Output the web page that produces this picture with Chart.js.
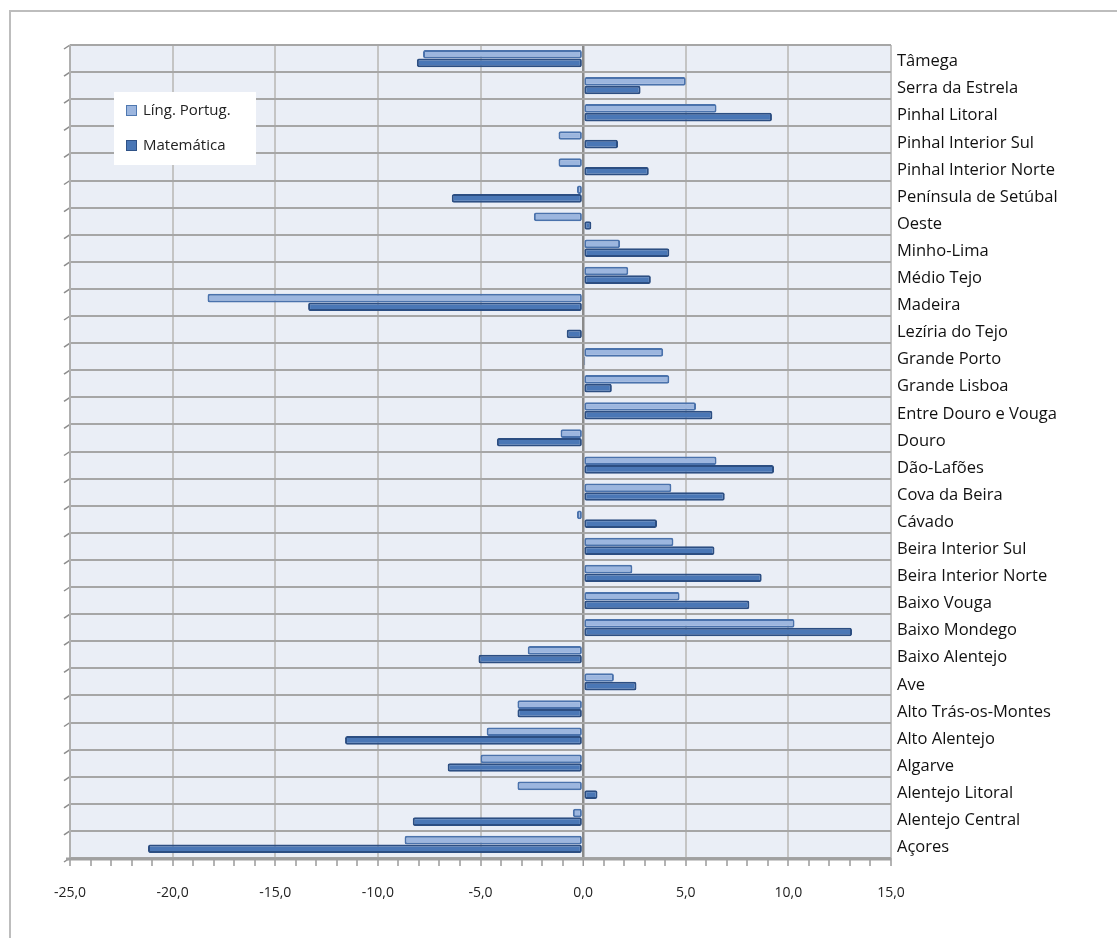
<!DOCTYPE html>
<html>
<head>
<meta charset="utf-8">
<script src="https://cdn.jsdelivr.net/npm/chart.js@4/dist/chart.umd.min.js"></script>
<style>
html,body{margin:0;padding:0;background:#fff;}
#wrap{width:1117px;height:938px;position:relative;}
</style>
</head>
<body>
<div id="wrap"><canvas id="c" width="1117" height="938"></canvas></div>
<script>
const categories = ["Tâmega","Serra da Estrela","Pinhal Litoral","Pinhal Interior Sul","Pinhal Interior Norte","Península de Setúbal","Oeste","Minho-Lima","Médio Tejo","Madeira","Lezíria do Tejo","Grande Porto","Grande Lisboa","Entre Douro e Vouga","Douro","Dão-Lafões","Cova da Beira","Cávado","Beira Interior Sul","Beira Interior Norte","Baixo Vouga","Baixo Mondego","Baixo Alentejo","Ave","Alto Trás-os-Montes","Alto Alentejo","Algarve","Alentejo Litoral","Alentejo Central","Açores"];
const lingPortug = [-7.8, 5.0, 6.5, -1.2, -1.2, -0.3, -2.4, 1.8, 2.2, -18.3, 0.0, 3.9, 4.2, 5.5, -1.1, 6.5, 4.3, -0.3, 4.4, 2.4, 4.7, 10.3, -2.7, 1.5, -3.2, -4.7, -5.0, -3.2, -0.5, -8.7];
const matematica = [-8.1, 2.8, 9.2, 1.7, 3.2, -6.4, 0.4, 4.2, 3.3, -13.4, -0.8, 0.1, 1.4, 6.3, -4.2, 9.3, 6.9, 3.6, 6.4, 8.7, 8.1, 13.1, -5.1, 2.6, -3.2, -11.6, -6.6, 0.7, -8.3, -21.2];
const seriesNames = ["Líng. Portug.", "Matemática"];
const xTicks = {min: -25, max: 15, major: 5, minor: 1};
</script>
<script>
const plotBg = {
  id: 'plotBg',
  beforeDraw(chart) {
    const {ctx, chartArea: a} = chart;
    ctx.save();
    ctx.strokeStyle = '#BDBDBD';
    ctx.lineWidth = 2;
    ctx.strokeRect(10, 11, 1200, 1000);
    ctx.fillStyle = '#EAEEF6';
    ctx.fillRect(a.left, a.top, a.right - a.left, a.bottom - a.top);
    ctx.strokeStyle = '#8C8C8C';
    ctx.lineWidth = 1.5;
    for (let i = 0; i <= categories.length; i++) {
      const yy = a.top + (a.bottom - a.top) * i / categories.length;
      ctx.beginPath();
      ctx.moveTo(a.left - 6, yy + 4);
      ctx.lineTo(a.left, yy);
      ctx.stroke();
    }
    ctx.restore();
  },
  afterDraw(chart) {
    const {ctx, chartArea: a} = chart;
    ctx.save();
    const lx = 114, ly = 92, lw = 142, lh = 73;
    ctx.fillStyle = '#FFFFFF';
    ctx.fillRect(lx, ly, lw, lh);
    const cols = [['#9CB6DF', '#4F78B0'], ['#4A77B6', '#2F5287']];
    ctx.font = '15px "Open Sans", sans-serif';
    ctx.textBaseline = 'middle';
    seriesNames.forEach((n, i) => {
      const yy = ly + 19 + i * 35;
      ctx.fillStyle = cols[i][0];
      ctx.fillRect(lx + 12, yy - 6, 11, 11);
      ctx.strokeStyle = cols[i][1];
      ctx.lineWidth = 1;
      ctx.strokeRect(lx + 12.5, yy - 5.5, 10, 10);
      ctx.fillStyle = '#222';
      ctx.fillText(n, lx + 29, yy);
    });
    ctx.strokeStyle = '#B0B0B0';
    ctx.lineWidth = 2;
    ctx.beginPath(); ctx.moveTo(a.left, a.top); ctx.lineTo(a.left, a.bottom); ctx.stroke();
    ctx.strokeStyle = '#A0A0A0';
    ctx.lineWidth = 3;
    ctx.beginPath(); ctx.moveTo(a.left - 4, a.bottom + 1); ctx.lineTo(a.right, a.bottom + 1); ctx.stroke();
    ctx.restore();
  }
};

new Chart(document.getElementById('c'), {
  type: 'bar',
  data: {
    labels: categories,
    datasets: [
      {label: seriesNames[0], data: lingPortug, backgroundColor: '#9CB6DF', borderColor: '#4A72AC', borderWidth: 2, borderSkipped: false, borderRadius: 2, categoryPercentage: 0.64, barPercentage: 1.0},
      {label: seriesNames[1], data: matematica, backgroundColor: '#4A77B6', borderColor: '#2C4E82', borderWidth: 2, borderSkipped: false, borderRadius: 2, categoryPercentage: 0.64, barPercentage: 1.0}
    ]
  },
  options: {
    indexAxis: 'y',
    responsive: false,
    animation: false,
    layout: {padding: {left: 70, top: 45, right: 0, bottom: 0}},
    plugins: {legend: {display: false}, tooltip: {enabled: false}},
    scales: {
      x: {
        type: 'linear',
        min: xTicks.min, max: xTicks.max,
        afterFit(s) { s.height = 80; },
        afterBuildTicks(s) {
          const t = [];
          for (let v = xTicks.min; v <= xTicks.max; v += xTicks.minor) t.push({value: v});
          s.ticks = t;
        },
        ticks: {
          autoSkip: false, maxRotation: 0, padding: 19,
          color: '#222',
          font: {family: '"Open Sans", sans-serif', size: 14},
          callback: (v) => (v % xTicks.major === 0) ? v.toFixed(1).replace('.', ',') : ''
        },
        grid: {
          drawTicks: true, tickLength: 8,
          tickColor: '#9A9A9A', tickWidth: 1.5,
          color: (c) => {
            const v = c.tick && c.tick.value;
            if (v === 0) return '#8A8A8A';
            return (v % xTicks.major === 0) ? '#C4C4C4' : 'rgba(0,0,0,0)';
          },
          lineWidth: (c) => (c.tick && c.tick.value === 0) ? 2.5 : 2
        },
        border: {display: false}
      },
      y: {
        type: 'category',
        position: 'right',
        afterFit(s) { s.width = 226; },
        ticks: {
          autoSkip: false, padding: 6, color: '#111', labelOffset: 3,
          font: {family: '"Open Sans", sans-serif', size: 16.5}
        },
        grid: {offset: true, drawTicks: false, color: '#A6A6A6', lineWidth: 2},
        border: {display: false}
      }
    }
  },
  plugins: [plotBg]
});
</script>
</body>
</html>
